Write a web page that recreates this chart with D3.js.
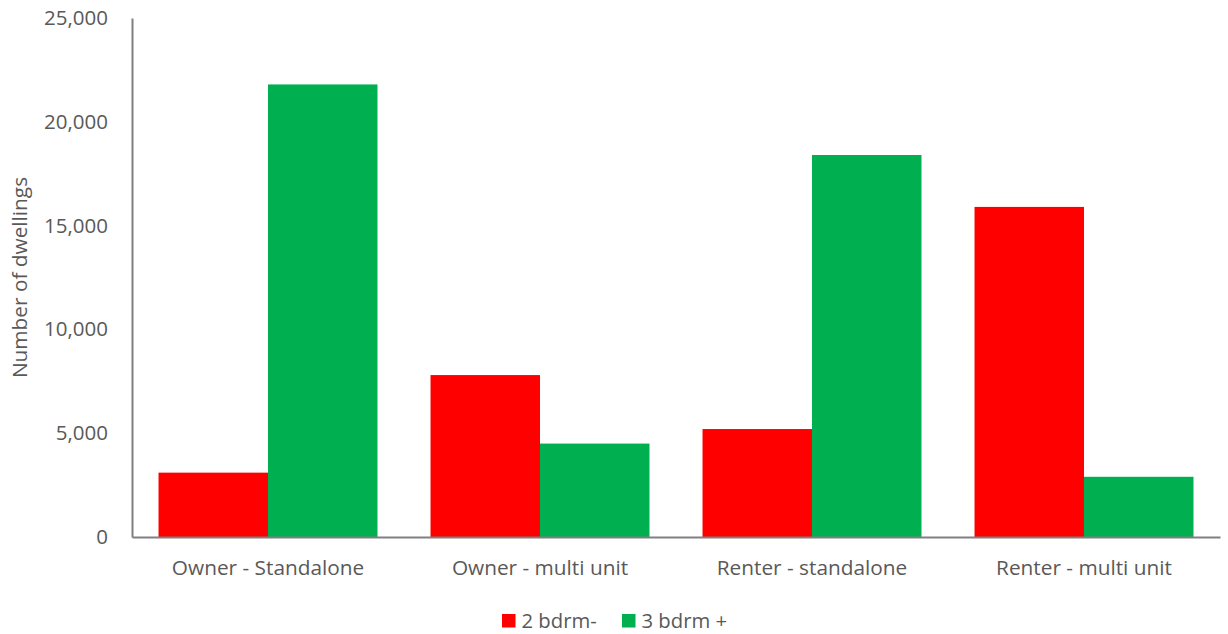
<!DOCTYPE html>
<html>
<head>
<meta charset="utf-8">
<script src="https://cdn.jsdelivr.net/npm/d3@7"></script>
<style>
  html, body { margin: 0; padding: 0; background: #fff; }
  svg text { font-family: "Open Sans", sans-serif; fill: #595959; }
</style>
</head>
<body>
<svg id="chart" width="1228" height="634"></svg>
<script>
// Dwellings by tenure / dwelling type, split by number of bedrooms
const categories = ["Owner - Standalone", "Owner - multi unit", "Renter - standalone", "Renter - multi unit"];
const seriesNames = ["2 bdrm-", "3 bdrm +"];
const twoBedOrLess = [3100, 7800, 5200, 15900];
const threeBedPlus = [21800, 4500, 18400, 2900];
const yTicks = [0, 5000, 10000, 15000, 20000, 25000];
const colors = ["#ff0000", "#00b050"];

const FONT = "'Open Sans', sans-serif";

const svg = d3.select("#chart");
const margin = { left: 132, right: 8, top: 18, bottom: 97 };
const W = 1228, H = 634;

const x = d3.scaleBand().domain(categories).range([margin.left, W - margin.right]).paddingInner(0.195).paddingOuter(0.0975);
const xs = d3.scaleBand().domain(seriesNames).range([0, x.bandwidth()]);
const y = d3.scaleLinear().domain([0, 25000]).range([H - margin.bottom, margin.top]);

const rows = categories.map((c, i) => ({ cat: c, vals: [twoBedOrLess[i], threeBedPlus[i]] }));

svg.append("g").selectAll("g").data(rows).join("g")
  .attr("transform", d => `translate(${x(d.cat)},0)`)
  .selectAll("rect").data(d => d.vals.map((v, j) => ({ v, s: seriesNames[j], j })))
  .join("rect")
  .attr("x", d => xs(d.s))
  .attr("width", xs.bandwidth())
  .attr("y", d => y(d.v))
  .attr("height", d => y(0) - y(d.v))
  .attr("fill", d => colors[d.j]);

// Y axis
const yAxis = svg.append("g").attr("transform", `translate(${margin.left},0)`)
  .call(d3.axisLeft(y).tickValues(yTicks).tickFormat(d3.format(",")).tickSize(0).tickPadding(24));
yAxis.select(".domain").attr("stroke", "#808080").attr("stroke-width", 2);
yAxis.selectAll("text").attr("font-size", 20.5).style("font-family", FONT).attr("fill", "#595959");

// X axis
const xAxis = svg.append("g").attr("transform", `translate(0,${y(0)})`)
  .call(d3.axisBottom(x).tickSize(0).tickPadding(23));
xAxis.select(".domain").attr("stroke", "#808080").attr("stroke-width", 2);
xAxis.selectAll("text").attr("font-size", 20.8).style("font-family", FONT).attr("fill", "#595959");

// Y axis title
svg.append("text")
  .attr("transform", `translate(27,${(y(0) + y(25000)) / 2}) rotate(-90)`)
  .attr("text-anchor", "middle")
  .attr("font-size", 20.8)
  .text("Number of dwellings");

// Legend
const legend = svg.append("g").attr("transform", "translate(502,614)");
const items = [{ name: seriesNames[0], x: 0 }, { name: seriesNames[1], x: 120 }];
items.forEach((it, i) => {
  legend.append("rect").attr("x", it.x).attr("y", 0).attr("width", 13.5).attr("height", 13.5).attr("fill", colors[i]);
  legend.append("text").attr("x", it.x + 19.5).attr("y", 13.5).attr("font-size", 20.3).text(it.name);
});
</script>
</body>
</html>
